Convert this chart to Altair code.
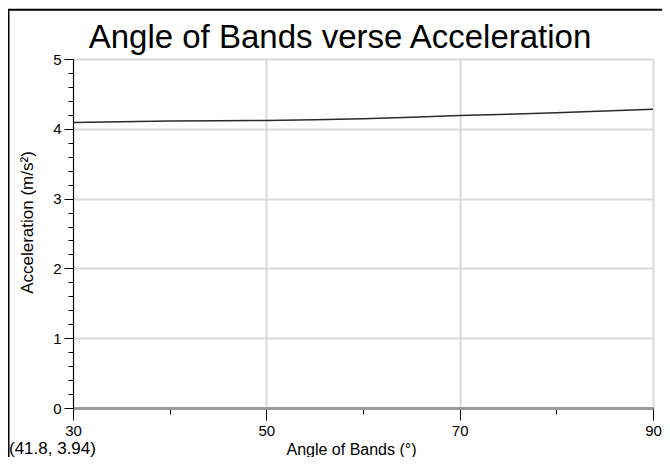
import altair as alt
import pandas as pd

# ---- data ----
angles = [30, 35, 40, 45, 50, 55, 60, 65, 70, 75, 80, 85, 90]
accel = [4.09, 4.10, 4.11, 4.115, 4.12, 4.13, 4.145, 4.165, 4.19, 4.21, 4.23, 4.255, 4.28]

x_major = [30, 50, 70, 90]
x_minor = [30, 40, 50, 60, 70, 80, 90]
y_major = [0, 1, 2, 3, 4, 5]
y_minor = [0, 0.2, 0.4, 0.6, 0.8, 1, 1.2, 1.4, 1.6, 1.8, 2, 2.2, 2.4, 2.6, 2.8, 3,
           3.2, 3.4, 3.6, 3.8, 4, 4.2, 4.4, 4.6, 4.8, 5]

title_text = "Angle of Bands verse Acceleration"
x_title = "Angle of Bands (°)"
y_title = "Acceleration (m/s²)"
cursor_label = "(41.8, 3.94)"

FONT = "Liberation Sans"

df = pd.DataFrame({"angle": angles, "accel": accel})
xs = alt.Scale(domain=[30, 90], nice=False, zero=False)
ys = alt.Scale(domain=[0, 5], nice=False)

minor = alt.Chart(df).mark_line(opacity=0).encode(
    x=alt.X("angle:Q", scale=xs, axis=alt.Axis(
        values=x_minor, orient="bottom", tickSize=6, tickColor="#000", tickWidth=1,
        labels=False, grid=False, domain=False, title="")),
    y=alt.Y("accel:Q", scale=ys, axis=alt.Axis(
        values=y_minor, orient="left", tickSize=5, tickColor="#000", tickWidth=1,
        labels=False, grid=False, domain=False, title="")),
)

major = alt.Chart(df).mark_line(color="#2a2a2a", strokeWidth=1.5).encode(
    x=alt.X("angle:Q", scale=xs, axis=alt.Axis(
        values=x_major, orient="bottom", tickSize=12, tickColor="#000", tickWidth=1,
        labelFontSize=15, labelFont=FONT, labelColor="#000", labelPadding=3,
        labelFlush=False, labelOverlap=False,
        grid=True, gridColor="#d9d9d9", gridWidth=2,
        domain=True, domainColor="#9a9a9a", domainWidth=3,
        title=x_title, titleFont=FONT, titleFontSize=16, titleFontWeight="normal",
        titleColor="#000", titleX=278, titleY=41, titleAlign="center",
        titleBaseline="middle")),
    y=alt.Y("accel:Q", scale=ys, axis=alt.Axis(
        values=y_major, orient="left", tickSize=9, tickColor="#000", tickWidth=1,
        labelFontSize=15, labelFont=FONT, labelColor="#000", labelPadding=3,
        labelFlush=False, labelOverlap=False,
        grid=True, gridColor="#d9d9d9", gridWidth=2,
        domain=True, domainColor="#000", domainWidth=1,
        title=y_title, titleFont=FONT, titleFontSize=17, titleFontWeight="normal",
        titleColor="#000", titleX=-46, titleY=163, titleAngle=270,
        titleAlign="center", titleBaseline="middle")),
)

title_layer = alt.Chart(pd.DataFrame({"t": [title_text]})).mark_text(
    font=FONT, fontSize=33, color="#000", align="center", baseline="alphabetic"
).encode(text="t:N", x=alt.value(267), y=alt.value(-11))

cursor_layer = alt.Chart(pd.DataFrame({"t": [cursor_label]})).mark_text(
    font=FONT, fontSize=17, color="#000", align="left", baseline="middle"
).encode(text="t:N", x=alt.value(-64), y=alt.value(390))

border = alt.Chart(pd.DataFrame({"a": [0]})).mark_rect(
    fillOpacity=0, stroke="#000", strokeWidth=2
).encode(x=alt.value(-64.5), x2=alt.value(700), y=alt.value(-49.3), y2=alt.value(500))

chart = alt.layer(border, minor, major, title_layer, cursor_layer).resolve_axis(
    x="independent", y="independent"
).properties(
    width=580, height=349,
    autosize=alt.AutoSizeParams(type="none"),
    padding={"left": 65, "top": 51, "right": 9, "bottom": 49},
    background="#ffffff",
).configure_view(strokeWidth=0)

chart.save("out.html", embed_options={"renderer": "svg", "actions": False})
